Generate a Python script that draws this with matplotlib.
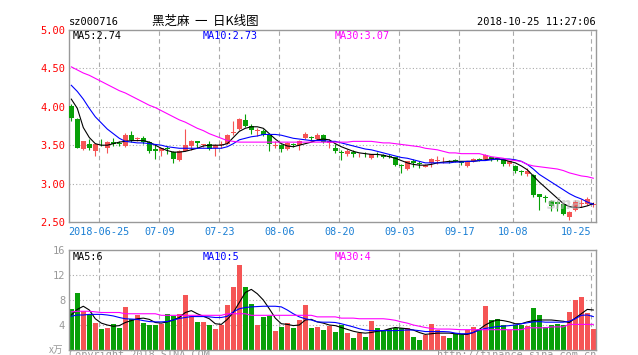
import matplotlib
matplotlib.use("Agg")
import matplotlib.pyplot as plt

# daily candles, 2018-06-15 .. 2018-10-25 (88 trading days)
opens = [4.01, 3.84, 3.45, 3.52, 3.43, 3.52, 3.46, 3.54, 3.53, 3.49,
         3.63, 3.58, 3.60, 3.54, 3.45, 3.43, 3.46, 3.41, 3.31, 3.43,
         3.49, 3.55, 3.50, 3.52, 3.46, 3.50, 3.52, 3.66, 3.71, 3.83,
         3.75, 3.69, 3.69, 3.63, 3.49, 3.50, 3.45, 3.51, 3.50, 3.59,
         3.61, 3.58, 3.63, 3.53, 3.47, 3.41, 3.39, 3.41, 3.38, 3.39,
         3.33, 3.39, 3.37, 3.36, 3.34, 3.24, 3.19, 3.30, 3.27, 3.22,
         3.27, 3.30, 3.29, 3.30, 3.31, 3.29, 3.23, 3.29, 3.32, 3.32,
         3.34, 3.33, 3.32, 3.26, 3.23, 3.16, 3.13, 3.11, 2.86, 2.82,
         2.77, 2.76, 2.73, 2.56, 2.66, 2.74, 2.74, 2.72]
highs = [4.03, 3.85, 3.56, 3.58, 3.53, 3.58, 3.55, 3.60, 3.56, 3.66,
         3.68, 3.61, 3.62, 3.55, 3.50, 3.47, 3.49, 3.42, 3.44, 3.71,
         3.57, 3.56, 3.52, 3.56, 3.51, 3.55, 3.64, 3.82, 3.85, 3.90,
         3.78, 3.72, 3.71, 3.64, 3.55, 3.51, 3.54, 3.53, 3.57, 3.67,
         3.62, 3.66, 3.64, 3.58, 3.52, 3.44, 3.45, 3.44, 3.40, 3.41,
         3.39, 3.41, 3.39, 3.38, 3.35, 3.25, 3.30, 3.32, 3.29, 3.25,
         3.33, 3.36, 3.34, 3.31, 3.32, 3.30, 3.30, 3.33, 3.33, 3.39,
         3.35, 3.35, 3.33, 3.30, 3.24, 3.18, 3.20, 3.12, 2.87, 2.85,
         2.79, 2.77, 2.74, 2.64, 2.79, 2.80, 2.83, 2.76]
lows = [3.82, 3.46, 3.44, 3.44, 3.36, 3.49, 3.40, 3.49, 3.49, 3.48,
        3.54, 3.55, 3.52, 3.40, 3.32, 3.36, 3.38, 3.27, 3.30, 3.42,
        3.44, 3.46, 3.48, 3.44, 3.36, 3.47, 3.51, 3.63, 3.70, 3.74,
        3.64, 3.62, 3.62, 3.42, 3.47, 3.41, 3.44, 3.48, 3.44, 3.58,
        3.55, 3.57, 3.53, 3.47, 3.40, 3.31, 3.36, 3.35, 3.34, 3.34,
        3.32, 3.34, 3.33, 3.33, 3.23, 3.14, 3.18, 3.22, 3.20, 3.21,
        3.21, 3.26, 3.27, 3.27, 3.28, 3.24, 3.22, 3.28, 3.29, 3.31,
        3.29, 3.30, 3.23, 3.23, 3.14, 3.11, 3.10, 2.83, 2.65, 2.76,
        2.64, 2.64, 2.59, 2.53, 2.64, 2.70, 2.72, 2.70]
closes = [3.86, 3.47, 3.55, 3.47, 3.52, 3.51, 3.54, 3.51, 3.51, 3.63,
          3.57, 3.60, 3.54, 3.42, 3.43, 3.46, 3.45, 3.32, 3.43, 3.50,
          3.55, 3.53, 3.51, 3.45, 3.50, 3.52, 3.63, 3.67, 3.84, 3.75,
          3.70, 3.70, 3.63, 3.52, 3.50, 3.45, 3.53, 3.50, 3.56, 3.64,
          3.60, 3.63, 3.54, 3.56, 3.42, 3.40, 3.42, 3.38, 3.39, 3.38,
          3.38, 3.38, 3.35, 3.35, 3.24, 3.23, 3.29, 3.27, 3.26, 3.24,
          3.32, 3.31, 3.30, 3.29, 3.30, 3.27, 3.29, 3.32, 3.31, 3.37,
          3.32, 3.32, 3.26, 3.29, 3.16, 3.15, 3.17, 2.85, 2.82, 2.81,
          2.71, 2.74, 2.61, 2.63, 2.76, 2.75, 2.80, 2.74]

ma5 = [4.10, 3.98, 3.73, 3.60, 3.52, 3.50, 3.50, 3.52, 3.54, 3.55,
       3.56, 3.56, 3.56, 3.54, 3.50, 3.46, 3.43, 3.41, 3.41, 3.42,
       3.44, 3.46, 3.49, 3.50, 3.50, 3.50, 3.52, 3.60, 3.68, 3.72,
       3.74, 3.74, 3.72, 3.65, 3.58, 3.52, 3.49, 3.48, 3.50, 3.52,
       3.54, 3.57, 3.58, 3.57, 3.52, 3.48, 3.45, 3.42, 3.40, 3.39,
       3.38, 3.38, 3.37, 3.35, 3.33, 3.30, 3.27, 3.25, 3.24, 3.24,
       3.25, 3.27, 3.28, 3.29, 3.29, 3.29, 3.29, 3.29, 3.30, 3.31,
       3.32, 3.32, 3.31, 3.29, 3.27, 3.23, 3.18, 3.10, 3.02, 2.95,
       2.88, 2.81, 2.74, 2.70, 2.69, 2.69, 2.71, 2.74]
ma10 = [4.28, 4.20, 4.10, 3.98, 3.87, 3.79, 3.71, 3.65, 3.59, 3.55,
        3.54, 3.53, 3.53, 3.52, 3.51, 3.50, 3.48, 3.47, 3.46, 3.46,
        3.46, 3.46, 3.46, 3.46, 3.46, 3.46, 3.48, 3.52, 3.57, 3.59,
        3.61, 3.62, 3.64, 3.64, 3.64, 3.63, 3.61, 3.59, 3.58, 3.57,
        3.56, 3.56, 3.56, 3.55, 3.55, 3.53, 3.51, 3.49, 3.47, 3.45,
        3.44, 3.42, 3.40, 3.38, 3.36, 3.34, 3.33, 3.31, 3.29, 3.27,
        3.27, 3.27, 3.27, 3.27, 3.28, 3.28, 3.29, 3.29, 3.30, 3.30,
        3.31, 3.32, 3.32, 3.32, 3.31, 3.29, 3.25, 3.19, 3.12, 3.07,
        3.02, 2.97, 2.92, 2.87, 2.83, 2.80, 2.76, 2.73]
ma30 = [4.52, 4.48, 4.44, 4.41, 4.37, 4.33, 4.29, 4.25, 4.21, 4.18,
        4.14, 4.10, 4.06, 4.02, 3.99, 3.95, 3.91, 3.87, 3.83, 3.80,
        3.76, 3.72, 3.69, 3.65, 3.62, 3.59, 3.56, 3.55, 3.54, 3.54,
        3.54, 3.54, 3.54, 3.54, 3.54, 3.54, 3.54, 3.54, 3.54, 3.54,
        3.54, 3.54, 3.54, 3.54, 3.54, 3.54, 3.54, 3.55, 3.55, 3.55,
        3.55, 3.54, 3.53, 3.53, 3.52, 3.51, 3.50, 3.49, 3.48, 3.46,
        3.45, 3.44, 3.42, 3.40, 3.40, 3.39, 3.39, 3.39, 3.39, 3.37,
        3.35, 3.34, 3.33, 3.31, 3.30, 3.29, 3.25, 3.23, 3.22, 3.21,
        3.20, 3.19, 3.17, 3.14, 3.12, 3.10, 3.09, 3.07]

# volume, x10k lots
volume = [6.56, 9.12, 6.19, 5.71, 4.32, 3.36, 3.52, 4.11, 3.52, 6.88,
          4.91, 5.60, 4.37, 4.00, 4.00, 4.10, 5.70, 5.44, 5.76, 8.80,
          5.44, 4.48, 4.48, 4.00, 3.36, 4.00, 7.20, 10.08, 13.60, 10.08,
          7.36, 4.00, 5.28, 5.44, 3.04, 3.68, 4.32, 3.52, 4.80, 7.20,
          3.52, 3.68, 3.20, 3.84, 2.88, 4.00, 2.72, 1.92, 2.80, 2.05,
          4.72, 3.50, 3.12, 3.30, 3.55, 3.50, 3.50, 2.05, 1.58, 2.38,
          4.15, 3.18, 2.22, 1.90, 2.60, 2.41, 3.18, 3.68, 3.34, 7.04,
          4.82, 4.95, 3.98, 3.16, 3.98, 3.98, 3.82, 6.72, 5.59, 3.65,
          3.98, 4.14, 3.98, 6.08, 8.00, 8.50, 5.90, 3.33]
vma5 = [5.6, 6.5, 7.0, 6.4, 5.0, 4.3, 4.0, 3.8, 3.9, 4.4,
        4.7, 5.0, 5.1, 4.9, 4.4, 4.3, 4.5, 4.8, 5.2, 6.0,
        6.3, 5.8, 5.4, 5.0, 4.2, 4.1, 4.9, 6.0, 7.6, 9.2,
        9.7, 9.0, 8.0, 6.6, 5.1, 4.2, 4.1, 3.9, 4.0, 4.8,
        4.9, 4.5, 4.3, 4.0, 3.9, 3.6, 3.3, 3.0, 2.8, 2.7,
        2.8, 3.0, 3.1, 3.4, 3.6, 3.5, 3.4, 3.2, 2.8, 2.5,
        2.6, 2.7, 2.7, 2.7, 2.6, 2.5, 2.5, 2.8, 3.3, 4.0,
        4.5, 4.8, 4.7, 4.5, 4.2, 4.2, 4.5, 4.7, 4.8, 4.8,
        4.8, 4.7, 4.6, 4.4, 5.1, 5.8, 6.5, 6.4]
vma10 = [5.4, 5.6, 5.6, 5.7, 5.7, 5.7, 5.6, 5.45, 5.2, 5.0,
         4.95, 4.9, 4.7, 4.55, 4.5, 4.5, 4.55, 4.8, 5.05, 5.2,
         5.35, 5.35, 5.35, 5.3, 5.2, 5.2, 5.4, 6.1, 6.6, 6.8,
         6.9, 6.95, 7.0, 7.0, 7.0, 6.9, 6.4, 5.8, 5.3, 5.0,
         4.8, 4.5, 4.45, 4.45, 4.4, 4.2, 3.95, 3.7, 3.4, 3.2,
         3.1, 3.1, 3.1, 3.1, 3.1, 3.15, 3.2, 3.2, 3.1, 2.95,
         2.95, 2.95, 2.95, 2.9, 2.7, 2.6, 2.6, 2.8, 3.2, 3.45,
         3.6, 3.75, 3.8, 3.9, 4.0, 4.2, 4.35, 4.5, 4.55, 4.45,
         4.45, 4.45, 4.45, 4.6, 5.0, 5.55, 5.6, 5.35]
vma30 = [6.1, 6.2, 6.2, 6.2, 6.1, 6.0, 6.0, 6.0, 6.0, 5.8,
         5.8, 5.8, 5.8, 5.8, 5.8, 5.55, 5.55, 5.55, 5.55, 5.55,
         5.55, 5.55, 5.55, 5.55, 5.55, 5.55, 5.8, 5.8, 5.8, 5.8,
         5.55, 5.55, 5.55, 5.55, 5.55, 5.55, 5.55, 5.55, 5.55, 5.55,
         5.55, 5.3, 5.3, 5.3, 5.3, 5.1, 5.1, 5.1, 5.0, 5.0,
         5.0, 5.0, 5.0, 4.9, 4.75, 4.5, 4.3, 4.0, 3.8, 3.6,
         3.45, 3.35, 3.35, 3.35, 3.3, 3.25, 3.25, 3.25, 3.25, 3.25,
         3.25, 3.25, 3.25, 3.25, 3.25, 3.25, 3.55, 3.55, 3.55, 3.55,
         3.7, 3.7, 3.7, 4.1, 4.1, 4.1, 4.1, 4.1]

tick_idx = [5, 15, 25, 35, 45, 55, 65, 74, 87]
tick_lab = ["2018-06-25", "07-09", "07-23", "08-06", "08-20",
            "09-03", "09-17", "10-08", "10-25"]
price_ticks = [2.5, 3.0, 3.5, 4.0, 4.5, 5.0]
vol_ticks = [4, 8, 12, 16]

RED = "#f55555"
GREEN = "#08a008"
GRID = "#aaaaaa"
MONO = "DejaVu Sans Mono"
CJK = ["Noto Sans CJK SC", "DejaVu Sans"]

fig = plt.figure(figsize=(6.38, 3.55), dpi=100)
W, H = 638.0, 355.0
L, R = 69.3, 596.0
ax = fig.add_axes([L / W, 1 - 222 / H, (R - L) / W, 192 / H])
axv = fig.add_axes([L / W, 1 - 350 / H, (R - L) / W, 100 / H])

n = len(closes)
xs = list(range(n))
for a in (ax, axv):
    a.set_xlim(-1 / 3, n - 1 + 2.7 / 6)
    for s in a.spines.values():
        s.set_color("#999999")
        s.set_linewidth(1)
    for t in tick_idx:
        a.axvline(t - 1 / 3, color=GRID, lw=0.8, ls=(0, (4, 3)), zorder=0)
    a.set_xticks([])
    a.tick_params(length=0)

# candles
for i in xs:
    o, h, l, c = opens[i], highs[i], lows[i], closes[i]
    col = RED if c >= o else GREEN
    ax.vlines(i, l, h, color=col, lw=0.8, zorder=2)
    ax.bar(i, max(abs(c - o), 0.006), bottom=min(o, c), width=0.83,
           color=col, zorder=3)
    axv.bar(i, volume[i], width=0.83, color=col, zorder=2)

ax.plot(xs, ma5, color="black", lw=0.8, zorder=4)
ax.plot(xs, ma10, color="#0000ff", lw=0.8, zorder=4)
ax.plot(xs, ma30, color="#ff00ff", lw=0.8, zorder=4)
axv.plot(xs, vma5, color="black", lw=0.8, zorder=4)
axv.plot(xs, vma10, color="#0000ff", lw=0.8, zorder=4)
axv.plot(xs, vma30, color="#ff00ff", lw=0.8, zorder=4)

ax.set_ylim(2.5, 5.0)
for v in price_ticks[1:-1]:
    ax.axhline(v, color=GRID, lw=0.8, ls=(0, (1, 2)), zorder=0)
ax.set_yticks(price_ticks)
ax.set_yticklabels(["%.2f" % v for v in price_ticks], color="red",
                   fontsize=7.5, family=MONO)
ax.tick_params(axis="y", pad=3)

axv.set_ylim(0, 16)
for v in vol_ticks[:-1]:
    axv.axhline(v, color=GRID, lw=0.8, ls=(0, (1, 2)), zorder=0)
axv.set_yticks(vol_ticks)
axv.set_yticklabels([str(v) for v in vol_ticks], color="#999999",
                    fontsize=7.5, family=MONO)
axv.tick_params(axis="y", pad=3)

# date labels
for t, lab in zip(tick_idx, tick_lab):
    ha = "right" if t == tick_idx[-1] else "center"
    ax.text(t - 1 / 3, -0.025, lab, transform=ax.get_xaxis_transform(),
            ha=ha, va="top", color="#1a7fd4", fontsize=7.3, family=MONO)

# ma legends
ax.text(0.007, 0.968, "MA5:%.2f" % ma5[-1], transform=ax.transAxes,
        fontsize=7.3, family=MONO, va="center", color="black")
ax.text(0.254, 0.968, "MA10:%.2f" % ma10[-1], transform=ax.transAxes,
        fontsize=7.3, family=MONO, va="center", color="#0000ff")
ax.text(0.503, 0.968, "MA30:%.2f" % ma30[-1], transform=ax.transAxes,
        fontsize=7.3, family=MONO, va="center", color="#ff00ff")
axv.text(0.007, 0.935, "MA5:%d" % round(vma5[-1]), transform=axv.transAxes,
         fontsize=7.3, family=MONO, va="center", color="black")
axv.text(0.254, 0.935, "MA10:%d" % round(vma10[-1]), transform=axv.transAxes,
         fontsize=7.3, family=MONO, va="center", color="#0000ff")
axv.text(0.503, 0.935, "MA30:%d" % round(vma30[-1]), transform=axv.transAxes,
         fontsize=7.3, family=MONO, va="center", color="#ff00ff")

# watermark
ax.text(0.975, 0.09, "sina", transform=ax.transAxes, ha="right",
        va="center", fontsize=11, style="italic", weight="bold",
        color="#bbbbbb", alpha=0.6, zorder=5)

# header
fig.text(L / W, 1 - 22 / H, "sz000716", fontsize=7.5, family=MONO,
         va="center", ha="left")
fig.text(205 / W, 1 - 21 / H, "黑芝麻  一  日K线图", fontsize=9, family=CJK,
         va="center", ha="center")
fig.text(R / W, 1 - 22 / H, "2018-10-25 11:27:06", fontsize=7.5,
         family=MONO, va="center", ha="right")

# footer
fig.text(L / W, 1 - 350 / H, "Copyright 2018 SINA.COM", fontsize=7.3,
         family=MONO, va="top", ha="left", color="#999999")
fig.text(R / W, 1 - 350 / H, "http://finance.sina.com.cn", fontsize=7.3,
         family=MONO, va="top", ha="right", color="#999999")
fig.text(63 / W, 1 - 350 / H, "x万", fontsize=7, family=CJK,
         va="center", ha="right", color="#999999")

fig.savefig("out.png", dpi=100)
